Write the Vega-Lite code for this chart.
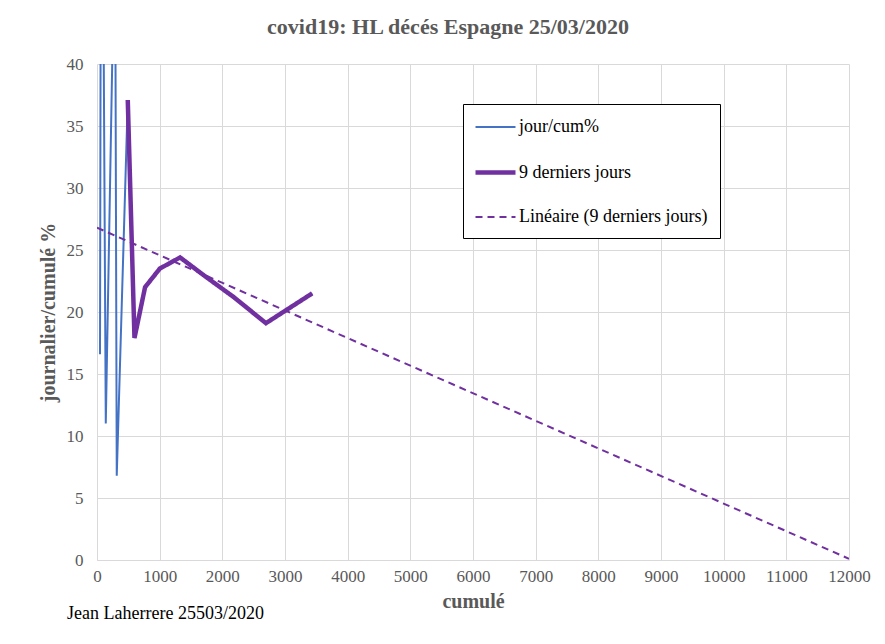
{
  "$schema": "https://vega.github.io/schema/vega-lite/v6.json",
  "background": "white",
  "padding": {"left": 38, "top": 16, "right": 10, "bottom": 5},
  "title": {
    "text": "Jean Laherrere 25503/2020",
    "orient": "bottom",
    "anchor": "start",
    "font": "Liberation Serif",
    "fontSize": 18,
    "fontWeight": "normal",
    "color": "#000000",
    "offset": 0,
    "dx": 29,
    "dy": -6
  },
  "vconcat": [
    {
      "width": 752,
      "height": 496,
      "title": {
        "text": "covid19: HL décés Espagne 25/03/2020",
        "font": "Liberation Serif",
        "fontSize": 22,
        "fontWeight": "bold",
        "color": "#595959",
        "anchor": "middle",
        "offset": 16,
        "dx": -25
      },
      "data": {
        "values": [
          {"series": "jour/cum%", "cum": 48, "pct": 16.6},
          {"series": "jour/cum%", "cum": 70, "pct": 75},
          {"series": "jour/cum%", "cum": 140, "pct": 11.0},
          {"series": "jour/cum%", "cum": 288, "pct": 52.8},
          {"series": "jour/cum%", "cum": 315, "pct": 6.8},
          {"series": "jour/cum%", "cum": 491, "pct": 37.1},
          {"series": "jour/cum%", "cum": 598, "pct": 17.9},
          {"series": "jour/cum%", "cum": 767, "pct": 22.0},
          {"series": "jour/cum%", "cum": 1002, "pct": 23.5},
          {"series": "jour/cum%", "cum": 1326, "pct": 24.4},
          {"series": "jour/cum%", "cum": 1720, "pct": 22.9},
          {"series": "jour/cum%", "cum": 2182, "pct": 21.2},
          {"series": "jour/cum%", "cum": 2696, "pct": 19.1},
          {"series": "jour/cum%", "cum": 3434, "pct": 21.5},
          {"series": "9 derniers jours", "cum": 491, "pct": 37.1},
          {"series": "9 derniers jours", "cum": 598, "pct": 17.9},
          {"series": "9 derniers jours", "cum": 767, "pct": 22.0},
          {"series": "9 derniers jours", "cum": 1002, "pct": 23.5},
          {"series": "9 derniers jours", "cum": 1326, "pct": 24.4},
          {"series": "9 derniers jours", "cum": 1720, "pct": 22.9},
          {"series": "9 derniers jours", "cum": 2182, "pct": 21.2},
          {"series": "9 derniers jours", "cum": 2696, "pct": 19.1},
          {"series": "9 derniers jours", "cum": 3434, "pct": 21.5},
          {"series": "Linéaire (9 derniers jours)", "cum": 0, "pct": 26.8},
          {"series": "Linéaire (9 derniers jours)", "cum": 12000, "pct": 0.1}
        ]
      },
      "encoding": {
        "x": {
          "field": "cum",
          "type": "quantitative",
          "scale": {"domain": [0, 12000], "nice": false},
          "axis": {
            "title": "cumulé",
            "values": [0, 1000, 2000, 3000, 4000, 5000, 6000, 7000, 8000, 9000, 10000, 11000, 12000],
            "format": "d",
            "labelOverlap": false,
            "labelFlush": false,
            "labelFont": "Liberation Serif",
            "labelFontSize": 17,
            "labelColor": "#595959",
            "domain": true,
            "domainColor": "#d9d9d9",
            "labelPadding": 8,
            "titlePadding": 7
          }
        },
        "y": {
          "field": "pct",
          "type": "quantitative",
          "scale": {"domain": [0, 40], "nice": false},
          "axis": {
            "title": "journalier/cumulé %",
            "values": [0, 5, 10, 15, 20, 25, 30, 35, 40],
            "format": "d",
            "labelOverlap": false,
            "labelFlush": false,
            "labelFont": "Liberation Serif",
            "labelFontSize": 17,
            "labelColor": "#595959",
            "domain": false,
            "labelPadding": 14,
            "titlePadding": 8
          }
        },
        "color": {
          "field": "series",
          "type": "nominal",
          "scale": {
            "domain": ["jour/cum%", "9 derniers jours", "Linéaire (9 derniers jours)"],
            "range": ["#4472C4", "#7030A0", "#7030A0"]
          },
          "legend": {"title": null}
        },
        "strokeDash": {
          "field": "series",
          "type": "nominal",
          "scale": {
            "domain": ["jour/cum%", "9 derniers jours", "Linéaire (9 derniers jours)"],
            "range": [[1, 0], [1, 0], [7, 5]]
          },
          "legend": {"title": null}
        },
        "strokeWidth": {
          "field": "series",
          "type": "nominal",
          "scale": {
            "type": "ordinal",
            "domain": ["jour/cum%", "9 derniers jours", "Linéaire (9 derniers jours)"],
            "range": [2, 4.5, 2]
          },
          "legend": {"title": null}
        }
      },
      "layer": [
        {
          "transform": [{"filter": "datum.series === 'jour/cum%'"}],
          "mark": {"type": "line", "clip": true}
        },
        {
          "transform": [{"filter": "datum.series === '9 derniers jours'"}],
          "mark": {"type": "line", "clip": true, "strokeJoin": "miter"}
        },
        {
          "transform": [{"filter": "datum.series === 'Linéaire (9 derniers jours)'"}],
          "mark": {"type": "line", "clip": true}
        }
      ]
    }
  ],
  "config": {
    "view": {"stroke": null},
    "axis": {
      "grid": true,
      "gridColor": "#d9d9d9",
      "gridWidth": 1,
      "ticks": false,
      "labelFont": "Liberation Serif",
      "labelFontSize": 17,
      "labelColor": "#595959",
      "titleFont": "Liberation Serif",
      "titleFontSize": 20,
      "titleFontWeight": "bold",
      "titleColor": "#595959"
    },
    "legend": {
      "orient": "none",
      "legendX": 366,
      "legendY": 40,
      "padding": 12,
      "rowPadding": 24,
      "strokeColor": "#000000",
      "fillColor": "#ffffff",
      "cornerRadius": 0,
      "symbolType": "M-2,0H2",
      "symbolSize": 400,
      "symbolOffset": 8,
      "labelOffset": 11,
      "labelFont": "Liberation Serif",
      "labelFontSize": 18,
      "labelColor": "#000000",
      "labelLimit": 400
    }
  }
}
